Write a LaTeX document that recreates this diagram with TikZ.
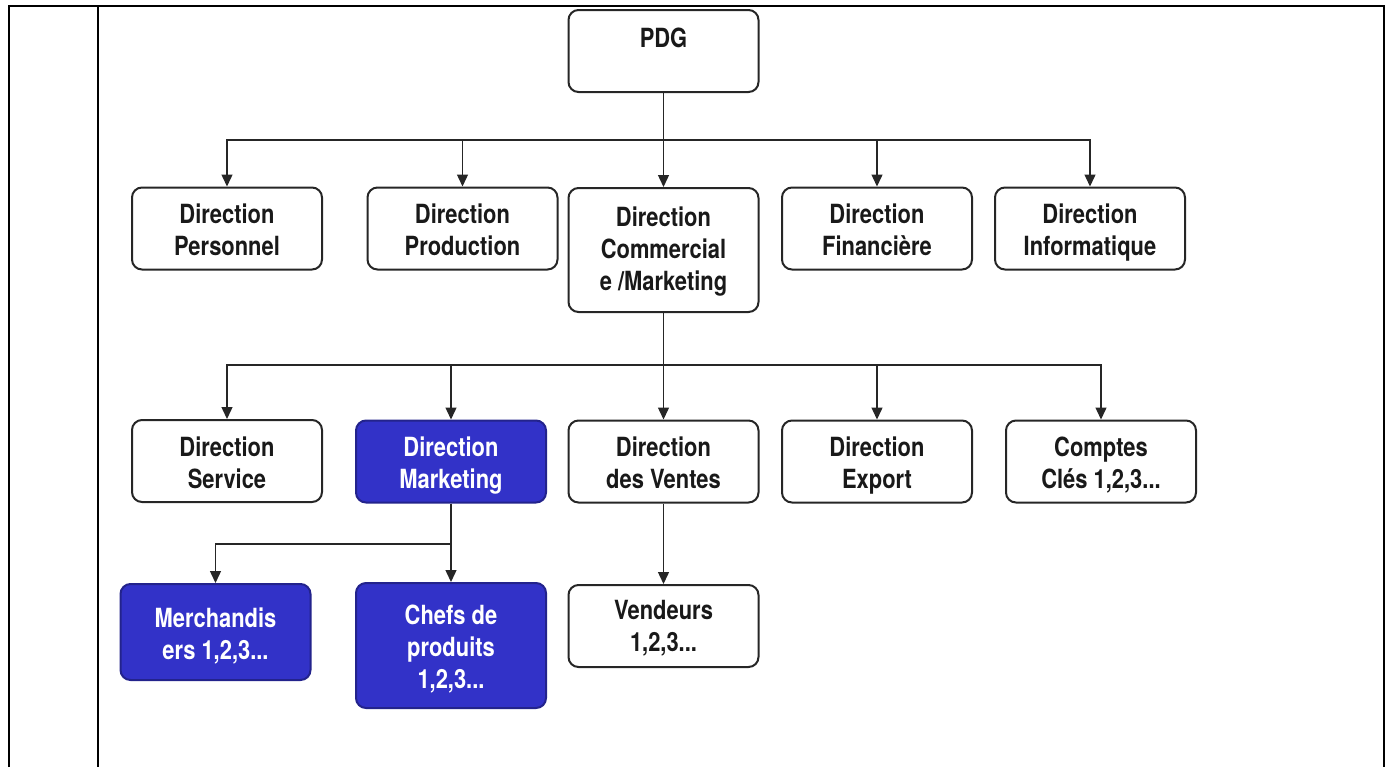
\documentclass[tikz,border=0pt]{standalone}
\usepackage{fontspec}
\newfontfamily\orgfont{TeX Gyre Heros}[FakeStretch=0.83]
\usetikzlibrary{arrows.meta}
\definecolor{mktblue}{RGB}{50,50,200}

\begin{document}
\begin{tikzpicture}[x=0.5pt, y=-0.5pt,
    box/.style={draw=black!85, line width=1pt, rounded corners=5pt,
      minimum width=95pt, minimum height=41pt, inner sep=0pt, align=center,
      font=\orgfont\bfseries\fontsize{13.2}{16}\selectfont, text=black!90,
      text height=30pt, text depth=3pt},
    bluebox/.style={box, fill=mktblue, draw=mktblue!70!black, text=white},
    link/.style={draw=black!85, line width=0.7pt, -{Triangle[length=6pt,width=5.5pt]}},
    frame/.style={line width=1.3pt}]

  \useasboundingbox (0,0) rectangle (1387,767);
  % table cell round the chart
  \draw[frame] (9,767) -- (9,6) -- (117,6);
  \draw[frame] (98,6) -- (98,767);
  \draw[line width=0.6pt] (117,6) -- (1196,6);
  \draw[frame] (1196,6) -- (1384,6) -- (1384,767);

  % top
  \node[box, text height=10pt, text depth=13.5pt] (pdg) at (663.5,51) {PDG};

  % first level
  \node[box] (pers) at (227,228.5) {Direction\\Personnel};
  \node[box] (prod) at (462.5,228.5) {Direction\\Production};
  \node[box, minimum height=62pt, text height=43.5pt] (comm) at (663.5,250) {Direction\\Commercial\\e /Marketing};
  \node[box] (fin) at (877,228.5) {Direction\\Financière};
  \node[box] (info) at (1090,228.5) {Direction\\Informatique};

  % second level
  \node[box] (serv) at (227,461) {Direction\\Service};
  \node[bluebox] (mkt) at (451,461.5) {Direction\\Marketing};
  \node[box] (vent) at (663.5,461.5) {Direction\\des Ventes};
  \node[box] (expo) at (877,461.5) {Direction\\Export};
  \node[box] (cpt) at (1101,461.5) {Comptes\\Clés 1,2,3...};

  % third level
  \node[bluebox, minimum height=48pt] (merch) at (215.5,632) {Merchandis\\ers 1,2,3...};
  \node[bluebox, minimum height=62.5pt, text height=46.3pt] (chefs) at (451,645.5) {Chefs de\\produits\\1,2,3...};
  \node[box, text height=28.5pt] (vend) at (663.5,626) {Vendeurs\\1,2,3...};

  % links
  \coordinate (bus1) at (663.5,140);
  \coordinate (bus2) at (663.5,365);
  \coordinate (bus3) at (451,544);
  \foreach \n in {pers,prod,comm,fin,info}
    \draw[link] (pdg.south) |- (bus1) -| (\n.north);
  \foreach \n in {serv,mkt,vent,expo,cpt}
    \draw[link] (comm.south) |- (bus2) -| (\n.north);
  \foreach \n in {merch,chefs}
    \draw[link] (mkt.south) |- (bus3) -| (\n.north);
  \draw[link] (vent) -- (vend);
\end{tikzpicture}
\end{document}
